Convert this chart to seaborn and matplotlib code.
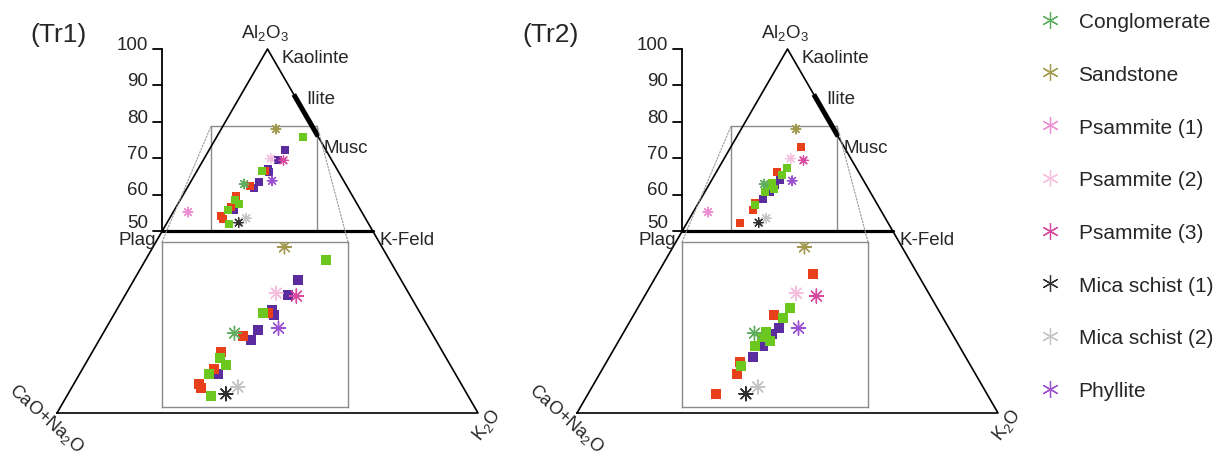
import numpy as np
import pandas as pd
import matplotlib
matplotlib.use("Agg")
import matplotlib.pyplot as plt
import seaborn as sns
from matplotlib.lines import Line2D
from matplotlib.patches import ConnectionPatch

sns.set_theme(style="white")
plt.rcParams['font.family'] = ['Liberation Sans', 'DejaVu Sans']
plt.rcParams['mathtext.default'] = 'regular'

# ---------------- data (A = Al2O3 %, K = K2O %, CN = 100 - A - K) ----------------
ref_names = ["Conglomerate", "Sandstone", "Psammite (1)", "Psammite (2)",
             "Psammite (3)", "Mica schist (1)", "Mica schist (2)", "Phyllite"]
ref_A = [62.9, 78.0, 55.2, 69.9, 69.4, 52.3, 53.5, 63.8]
ref_K = [13.0, 13.0, 3.5, 15.8, 19.1, 17.0, 18.2, 19.2]
ref_colors = ["#5fae5f", "#a39a4e", "#ee8fd2", "#f5bfe0",
              "#d9489f", "#303030", "#c4c4c4", "#9a4fd0"]

sample_sets = ["Set P", "Set R", "Set G"]
set_colors = {"Set P": "#5a2ca0", "Set R": "#e8401a", "Set G": "#6cc81e"}

tr1_red_A = [66.4, 62.5, 59.6, 56.6, 54.1, 53.3]
tr1_red_K = [16.3, 14.5, 12.6, 13.1, 12.0, 12.7]
tr1_green_A = [75.7, 66.4, 58.6, 57.4, 55.8, 51.9]
tr1_green_K = [20.5, 15.5, 13.0, 14.5, 12.7, 14.9]
tr1_purple_A = [72.2, 69.6, 67.0, 66.1, 63.5, 61.8, 55.8]
tr1_purple_K = [18.0, 17.7, 16.6, 17.3, 16.3, 16.0, 14.1]

tr2_red_A = [73.2, 66.1, 57.8, 55.8, 52.3]
tr2_red_K = [16.7, 14.4, 13.4, 13.9, 12.5]
tr2_green_A = [67.3, 65.5, 63.2, 61.5, 62.3, 60.6, 57.1]
tr2_green_K = [16.2, 16.0, 14.6, 16.0, 14.4, 14.3, 13.8]
tr2_purple_A = [63.9, 62.7, 60.7, 58.8]
tr2_purple_K = [16.2, 15.7, 15.4, 14.8]

scale_ticks = [100, 90, 80, 70, 60, 50]
panel_titles = ["(Tr1)", "(Tr2)"]

# ---------------- layout ----------------
W, H = 1222, 460
X0, Y0 = 57, 414          # pixel of the CaO+Na2O corner inside a panel
SX, SY = 4.21, 3.64       # pixels per unit
PANEL_W = 520

zoom_box = (36.6, 61.8, 50.0, 78.85)      # drawn rectangle (x0, x1, A0, A1)
zoom_view = (33.5, 61.6, 50.0, 78.85)     # inset view limits
inset_px = (162, 243, 186, 165)           # left, top, width, height in panel px


def to_xy(A, K):
    A = np.asarray(A, float)
    K = np.asarray(K, float)
    return K + A / 2.0, A


def sample_frame(red_A, red_K, green_A, green_K, purple_A, purple_K):
    rows = []
    for name, AA, KK in [("Set P", purple_A, purple_K),
                         ("Set R", red_A, red_K),
                         ("Set G", green_A, green_K)]:
        x, y = to_xy(AA, KK)
        rows.append(pd.DataFrame({"x": x, "y": y, "set": name}))
    return pd.concat(rows, ignore_index=True)


rx, ry = to_xy(ref_A, ref_K)
ref_df = pd.DataFrame({"x": rx, "y": ry, "type": ref_names})
ref_pal = dict(zip(ref_names, ref_colors))

frames = [sample_frame(tr1_red_A, tr1_red_K, tr1_green_A, tr1_green_K, tr1_purple_A, tr1_purple_K),
          sample_frame(tr2_red_A, tr2_red_K, tr2_green_A, tr2_green_K, tr2_purple_A, tr2_purple_K)]

fig = plt.figure(figsize=(W / 100, H / 100), dpi=100)
fig.patch.set_facecolor("white")


def draw_points(ax, df, sq, ast, dot, lw):
    for name in sample_sets:
        sub = df[df["set"] == name]
        sns.scatterplot(data=sub, x="x", y="y", color=set_colors[name], marker="s",
                        s=sq, linewidth=0, ax=ax, legend=False, zorder=3)
    sns.scatterplot(data=ref_df, x="x", y="y", hue="type", palette=ref_pal,
                    marker=(8, 2, 0), s=ast, linewidth=lw, ax=ax, legend=False, zorder=4)
    sns.scatterplot(data=ref_df, x="x", y="y", hue="type", palette=ref_pal,
                    marker="o", s=dot, linewidth=0, ax=ax, legend=False, zorder=5)


for i, df in enumerate(frames):
    off = i * PANEL_W
    ax = fig.add_axes([off / W, 0, PANEL_W / W, 1])
    ax.set_xlim((0 - X0) / SX, (PANEL_W - X0) / SX)
    ax.set_ylim((Y0 - H) / SY, Y0 / SY)
    ax.axis("off")

    # triangle
    ax.plot([0, 100, 50, 0], [0, 0, 100, 0], color="black", lw=1.2, zorder=2)
    ax.plot([25, 75], [50, 50], color="black", lw=2.3, zorder=2)
    ilA = np.array([87.5, 76.0])
    ax.plot(100 - ilA / 2, ilA, color="black", lw=3.6, solid_capstyle="butt", zorder=2)

    # vertical Al2O3 scale
    ax.plot([25, 25], [50, 100], color="black", lw=1.3)
    for t in scale_ticks:
        ax.plot([22.7, 25], [t, t], color="black", lw=1.3)
        ax.text(21.7, t + (2.3 if t == 50 else 1.3), str(t), ha="right", va="center", fontsize=13.5)

    # labels
    ax.text(49.5, 104.6, r"Al$_2$O$_3$", ha="center", va="center", fontsize=13.5)
    ax.text(53.4, 97.6, "Kaolinte", ha="left", va="center", fontsize=13.5)
    ax.text(59.3, 86.4, "Ilite", ha="left", va="center", fontsize=13.5)
    ax.text(63.3, 73.0, "Musc", ha="left", va="center", fontsize=13.5)
    ax.text(23.6, 47.6, "Plag", ha="right", va="center", fontsize=13.5)
    ax.text(76.6, 47.6, "K-Feld", ha="left", va="center", fontsize=13.5)
    ax.text(-2.6, -1.2, r"CaO+Na$_2$O", ha="center", va="center", rotation=-42,
            rotation_mode="anchor", fontsize=13)
    ax.text(102.2, -3.0, r"K$_2$O", ha="center", va="center", rotation=52,
            rotation_mode="anchor", fontsize=13)
    tx = (30 if i == 0 else 2)
    ax.text((tx - X0) / SX, (Y0 - 35) / SY, panel_titles[i], ha="left", va="center", fontsize=19)

    # zoom rectangle
    bx0, bx1, by0, by1 = zoom_box
    ax.plot([bx0, bx0, bx1, bx1], [by0, by1, by1, by0], color="#8a8a8a", lw=1.0, zorder=1)

    draw_points(ax, df, sq=32, ast=48, dot=4, lw=0.9)

    # inset
    l, t, w, h = inset_px
    axins = fig.add_axes([(off + l) / W, (H - t - h) / H, w / W, h / H])
    axins.set_facecolor("white")
    axins.set_xlim(zoom_view[0], zoom_view[1])
    axins.set_ylim(zoom_view[2], zoom_view[3])
    draw_points(axins, df, sq=60, ast=100, dot=8, lw=1.0)
    axins.set_xticks([])
    axins.set_yticks([])
    axins.set_xlabel("")
    axins.set_ylabel("")
    for s in axins.spines.values():
        s.set_visible(True)
        s.set_color("#8a8a8a")
        s.set_linewidth(1.0)

    for fx, bx in [(0, bx0), (1, bx1)]:
        con = ConnectionPatch(xyA=(fx, 1), coordsA=axins.transAxes,
                              xyB=(bx, by1), coordsB=ax.transData,
                              color="#9a9a9a", lw=0.8, linestyle=(0, (1.5, 1.5)))
        fig.add_artist(con)

# legend
handles = [Line2D([], [], marker=(6, 2, 0), color=c, linestyle="none",
                  markersize=12, markeredgewidth=0.9) for c in ref_colors]
fig.legend(handles, ref_names, loc="upper left",
           bbox_to_anchor=(1040 / W, 1 - 13 / H), frameon=False, fontsize=15,
           handlelength=1.0, handletextpad=0.85, labelspacing=1.62,
           borderpad=0, borderaxespad=0)

fig.savefig("out.png", dpi=100, facecolor="white")
